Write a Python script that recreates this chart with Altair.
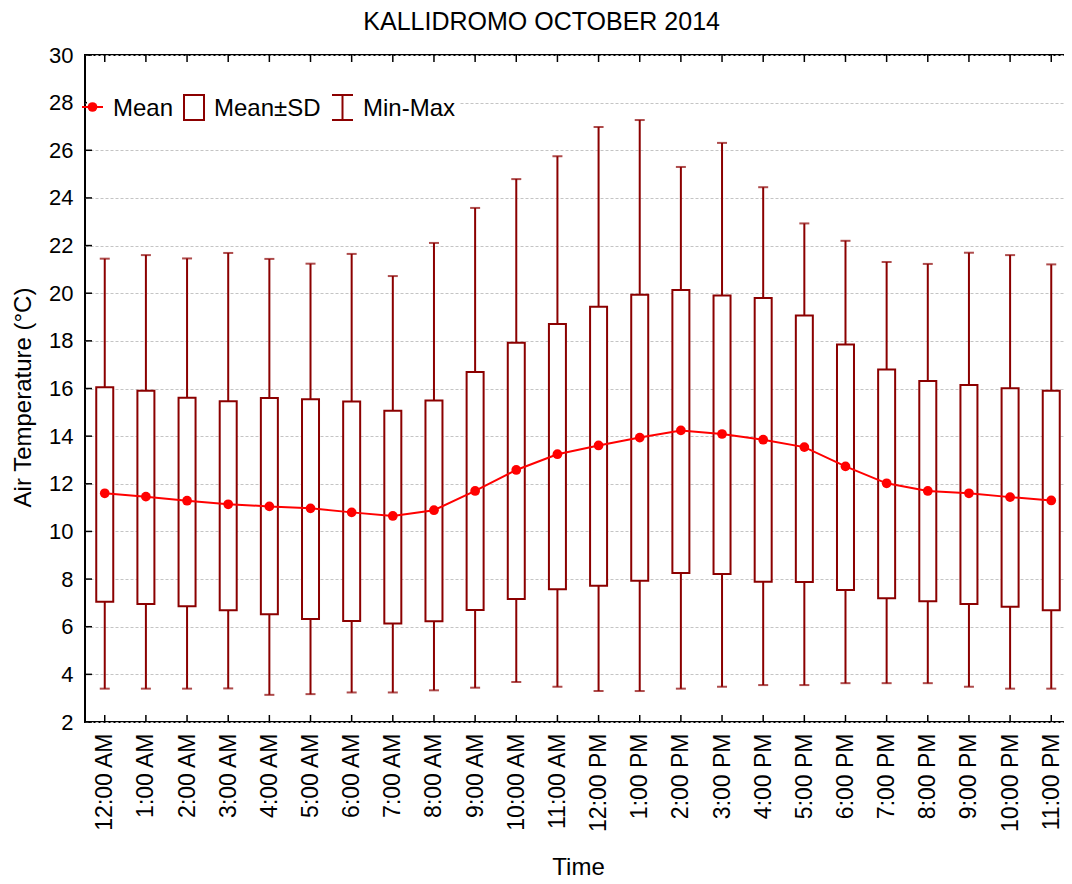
import altair as alt
import pandas as pd

hours = ["12:00 AM", "1:00 AM", "2:00 AM", "3:00 AM", "4:00 AM", "5:00 AM",
         "6:00 AM", "7:00 AM", "8:00 AM", "9:00 AM", "10:00 AM", "11:00 AM",
         "12:00 PM", "1:00 PM", "2:00 PM", "3:00 PM", "4:00 PM", "5:00 PM",
         "6:00 PM", "7:00 PM", "8:00 PM", "9:00 PM", "10:00 PM", "11:00 PM"]
mean_vals = [11.60, 11.46, 11.29, 11.14, 11.05, 10.97, 10.80, 10.65, 10.89, 11.70, 12.58, 13.24,
             13.61, 13.94, 14.24, 14.09, 13.85, 13.54, 12.73, 12.02, 11.70, 11.60, 11.44, 11.30]
sd_low = [7.05, 6.95, 6.86, 6.69, 6.52, 6.32, 6.24, 6.14, 6.23, 6.70, 7.16, 7.57,
          7.72, 7.93, 8.25, 8.21, 7.89, 7.88, 7.54, 7.19, 7.07, 6.95, 6.84, 6.69]
sd_high = [16.05, 15.91, 15.61, 15.47, 15.60, 15.55, 15.45, 15.07, 15.50, 16.69, 17.92, 18.71,
           19.43, 19.94, 20.13, 19.90, 19.80, 19.06, 17.85, 16.80, 16.31, 16.15, 16.01, 15.91]
min_vals = [3.40, 3.40, 3.40, 3.41, 3.14, 3.17, 3.24, 3.24, 3.33, 3.44, 3.68, 3.48,
            3.30, 3.30, 3.40, 3.48, 3.55, 3.55, 3.63, 3.63, 3.63, 3.48, 3.40, 3.40]
max_vals = [21.45, 21.60, 21.46, 21.69, 21.44, 21.24, 21.65, 20.72, 22.11, 23.58, 24.79, 25.75,
            26.98, 27.27, 25.30, 26.31, 24.45, 22.93, 22.20, 21.31, 21.23, 21.70, 21.60, 21.21]
y_ticks = list(range(2, 31, 2))
legend_labels = ["Mean", "Mean±SD", "Min-Max"]

W, H = 986, 667
FONT = "Liberation Sans"
DARK = "#8b0000"
RED = "#ff0000"

df = pd.DataFrame({"hour": hours, "mean": mean_vals, "lo": sd_low, "hi": sd_high,
                   "mn": min_vals, "mx": max_vals})

xenc = alt.X("hour:N", sort=hours, title="Time",
             scale=alt.Scale(type="point", padding=0.48),
             axis=alt.Axis(labelAngle=-90, labelFontSize=23, labelFont=FONT, labelColor="black",
                           labelPadding=11, ticks=False, domain=False, grid=False,
                           titleFontSize=24, titleFont=FONT, titleFontWeight="normal",
                           titleColor="black", titlePadding=24))
yscale = alt.Scale(domain=[2, 30], nice=False, zero=False)
yaxis = alt.Axis(values=y_ticks, labelFontSize=22, labelFont=FONT, labelColor="black",
                 labelPadding=12, ticks=False, domain=False, grid=True, gridDash=[3, 2],
                 gridColor="#c4c4c4", gridWidth=1, title="Air Temperature (°C)",
                 titleFontSize=24, titleFont=FONT, titleFontWeight="normal",
                 titleColor="black", titlePadding=13, titleY=342)


def yf(field):
    return alt.Y(field, scale=yscale, axis=yaxis)


base = alt.Chart(df)

whisk = base.mark_rule(color=DARK, strokeWidth=2).encode(
    x=xenc, y=yf("mn:Q"), y2="mx:Q")
cap_lo = base.mark_tick(color=DARK, thickness=2, size=10).encode(
    x=xenc, y=yf("mn:Q"))
cap_hi = base.mark_tick(color=DARK, thickness=2, size=10).encode(
    x=xenc, y=yf("mx:Q"))
box = base.mark_bar(size=17, fill="white", stroke=DARK, strokeWidth=2).encode(
    x=xenc, y=yf("lo:Q"), y2="hi:Q")
meanline = base.mark_line(color=RED, strokeWidth=2,
                          point=alt.OverlayMarkDef(color=RED, size=95, filled=True, opacity=1)).encode(
    x=xenc, y=yf("mean:Q"))

tick_b = base.mark_rule(color="black", strokeWidth=1.5).encode(
    x=xenc, y=alt.value(H), y2=alt.value(H - 7))
tick_t = base.mark_rule(color="black", strokeWidth=1.5).encode(
    x=xenc, y=alt.value(0), y2=alt.value(7))
ydf = alt.Chart(pd.DataFrame({"v": y_ticks}))
tick_l = ydf.mark_rule(color="black", strokeWidth=1.5).encode(
    y=yf("v:Q"), x=alt.value(0), x2=alt.value(7))
tick_r = ydf.mark_rule(color="black", strokeWidth=1.5).encode(
    y=yf("v:Q"), x=alt.value(W), x2=alt.value(W - 6))

# legend
one = pd.DataFrame({"k": [0]})
leg_bg = alt.Chart(one).mark_rect(fill="white").encode(
    x=alt.value(2), x2=alt.value(374), y=alt.value(37), y2=alt.value(67))
leg_line = alt.Chart(one).mark_rule(color=RED, strokeWidth=2).encode(
    x=alt.value(-3), x2=alt.value(18), y=alt.value(52))
leg_dot = alt.Chart(one).mark_point(color=RED, filled=True, size=95, opacity=1).encode(
    x=alt.value(7.5), y=alt.value(52))
leg_box = alt.Chart(one).mark_rect(fill="white", stroke=DARK, strokeWidth=2).encode(
    x=alt.value(99), x2=alt.value(119), y=alt.value(40), y2=alt.value(65))
leg_stem = alt.Chart(one).mark_rule(color=DARK, strokeWidth=2).encode(
    x=alt.value(257.5), y=alt.value(40), y2=alt.value(65))
leg_cap1 = alt.Chart(one).mark_rule(color=DARK, strokeWidth=2).encode(
    x=alt.value(247), x2=alt.value(268), y=alt.value(40))
leg_cap2 = alt.Chart(one).mark_rule(color=DARK, strokeWidth=2).encode(
    x=alt.value(247), x2=alt.value(268), y=alt.value(65))
txt_df = pd.DataFrame({"t": legend_labels})
leg_texts = []
for i, xp in enumerate([28, 129, 278]):
    leg_texts.append(
        alt.Chart(txt_df).transform_filter(alt.datum.t == legend_labels[i])
        .mark_text(font=FONT, fontSize=24, align="left", baseline="middle", color="black")
        .encode(x=alt.value(xp), y=alt.value(54), text="t:N"))

chart = alt.layer(
    whisk, cap_lo, cap_hi, box, meanline, tick_b, tick_t, tick_l, tick_r,
    leg_bg, leg_line, leg_dot, leg_box, leg_stem, leg_cap1, leg_cap2, *leg_texts
).properties(
    width=W, height=H,
    title=alt.TitleParams("KALLIDROMO OCTOBER 2014", fontSize=25, font=FONT,
                          fontWeight="normal", color="black", anchor="middle",
                          frame="bounds", offset=9),
    autosize=alt.AutoSizeParams(type="none"),
    padding={"left": 77, "top": 47, "right": -7, "bottom": 166},
).configure_view(stroke="black", strokeWidth=2)

chart.save("out.html", embed_options={"renderer": "svg", "actions": False})
